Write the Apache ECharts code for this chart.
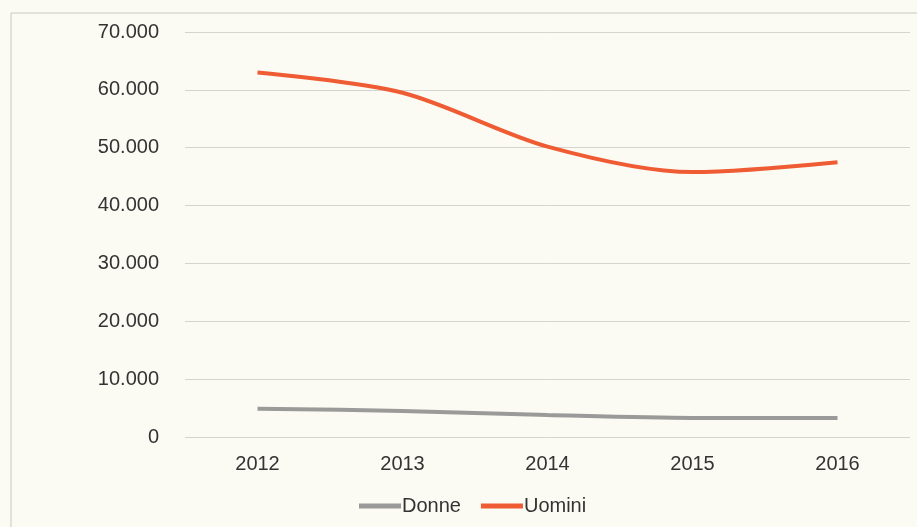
<!DOCTYPE html>
<html><head><meta charset="utf-8">
<script src="https://cdn.jsdelivr.net/npm/echarts@6/dist/echarts.min.js"></script>
<style>html,body{margin:0;padding:0;background:#fbfbf4;}#c{width:917px;height:527px;}</style>
</head><body><div id="c"></div>
<script>
const categories = ['2012','2013','2014','2015','2016'];
const donne = [4900, 4500, 3800, 3300, 3300];
const uomini = [63000, 59500, 50200, 45800, 47500];
const yTicks = [0, 10000, 20000, 30000, 40000, 50000, 60000, 70000];

const chart = echarts.init(document.getElementById('c'));
const fmt = v => v === 0 ? '0' : String(v).replace(/\B(?=(\d{3})+(?!\d))/g, '.');
chart.setOption({
  backgroundColor: '#fbfbf4',
  animation: false,
  textStyle: {fontFamily: 'Liberation Sans, Arial, sans-serif'},
  graphic: [{type:'rect', shape:{x:11, y:13, width:920, height:530}, style:{fill:'none', stroke:'#c8c8c0', lineWidth:1}}],
  grid: {left: 185, right: 7, top: 32, bottom: 90, containLabel: false},
  xAxis: {
    type: 'category', data: categories, boundaryGap: true,
    axisLine: {show: false}, axisTick: {show: false},
    axisLabel: {fontSize: 20, color: '#333', margin: 17}
  },
  yAxis: {
    type: 'value', min: yTicks[0], max: yTicks[yTicks.length-1], interval: 10000,
    axisLine: {show: false}, axisTick: {show: false},
    splitLine: {lineStyle: {color: '#d4d4d0', width: 1}},
    axisLabel: {fontSize: 20, color: '#333', margin: 26, formatter: fmt}
  },
  legend: {
    bottom: 6, left: 354, itemWidth: 42, itemHeight: 5, itemGap: 20,
    icon: 'rect',
    textStyle: {fontSize: 20, color: '#333', padding: [0,0,0,-4]},
    data: ['Donne','Uomini']
  },
  series: [
    {name:'Donne', type:'line', data: donne, smooth: 0.3, symbol:'none',
     lineStyle:{color:'#9a9a98', width:4}, itemStyle:{color:'#9a9a98'}},
    {name:'Uomini', type:'line', data: uomini, smooth: 0.3, symbol:'none',
     lineStyle:{color:'#ef5b33', width:4}, itemStyle:{color:'#ef5b33'}}
  ]
});
</script></body></html>
